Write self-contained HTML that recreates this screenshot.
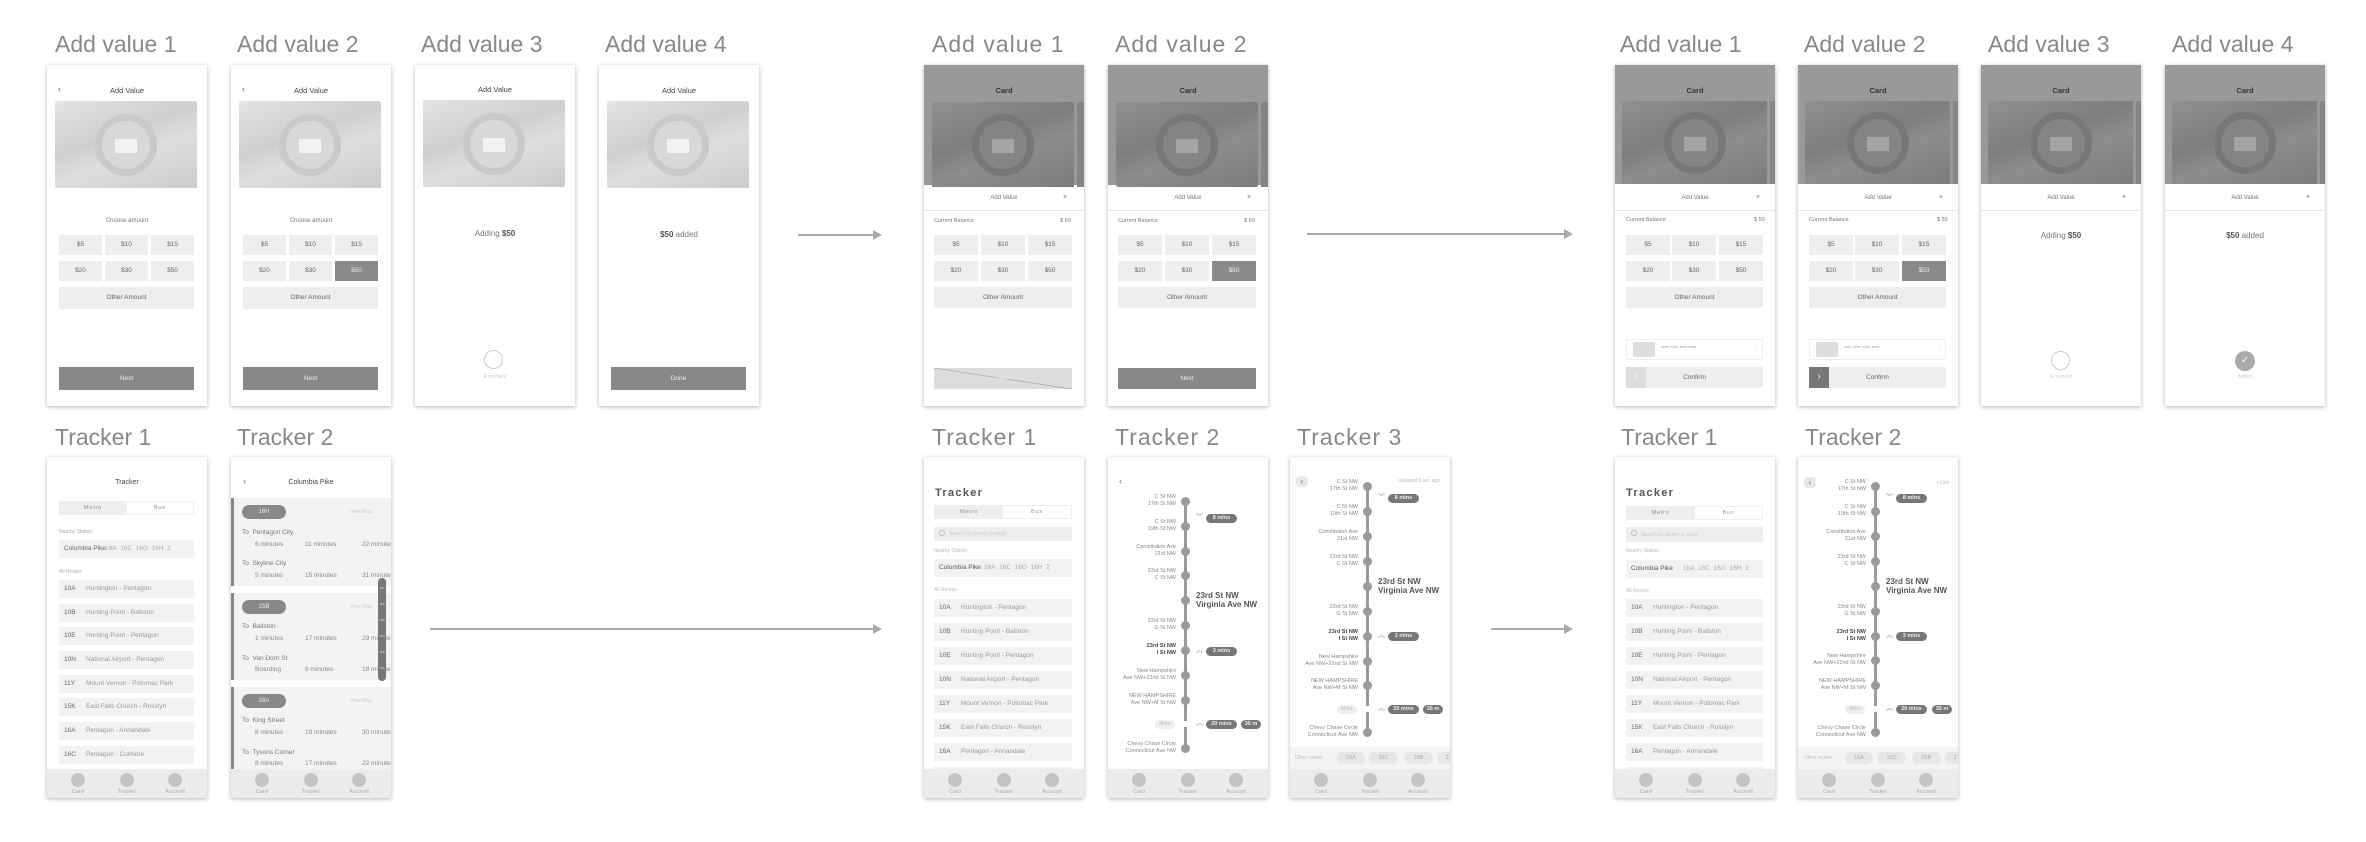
<!DOCTYPE html>
<html><head><meta charset="utf-8">
<style>
*{margin:0;padding:0;box-sizing:border-box}
body{width:2366px;height:842px;background:#fff;position:relative;overflow:hidden;font-family:"Liberation Sans",sans-serif;color:#555}
.a{position:absolute}
.ttl{position:absolute;font-size:23px;line-height:23px;color:#888;white-space:nowrap}
.ph{position:absolute;width:160px;height:341px;background:#fff;box-shadow:0 1px 4px rgba(0,0,0,.3);overflow:hidden}
.c{text-align:center}
.bt{position:absolute;width:43px;height:20px;line-height:20px;background:#eee;text-align:center;font-size:6.5px;color:#666}
.bw{width:44px}
.sel{background:#8a8a8a;color:#f0f0f0}
.oa{position:absolute;height:21px;line-height:21px;background:#eee;text-align:center;font-size:6.5px;color:#666}
.nx{position:absolute;height:22px;line-height:22px;background:#888;text-align:center;font-size:6.5px;color:#eee}
.hd{position:absolute;left:0;width:160px;text-align:center;font-size:7.5px;color:#444}
.card{position:absolute;overflow:hidden;border-radius:2px}
.card .sl{position:absolute;left:50%;top:50%;width:62px;height:62px;margin:-31px 0 0 -31px;border-radius:50%}
.card .bd{position:absolute;left:50%;top:50%;width:22px;height:14px;margin:-6px 0 0 -11px}
.light{background:linear-gradient(160deg,#e4e4e4,#cfcfcf 40%,#dedede 60%,#cbcbcb)}
.light .sl{border:7px solid #c9c9c9;background:#d8d8d8}
.light .bd{background:#f2f2f2}
.dark{background:linear-gradient(160deg,#909090,#7e7e7e 40%,#8c8c8c 60%,#7c7c7c)}
.dark .sl{border:7px solid #777;background:#858585}
.dark .bd{background:#a5a5a5}
.nav{position:absolute;left:0;top:312px;width:160px;height:30px;background:#ececec}
.nav i{position:absolute;top:4px;width:14px;height:14px;border-radius:50%;background:#c4c4c4}
.nav b{position:absolute;top:20px;width:40px;text-align:center;font-size:5.5px;font-weight:normal;color:#aaa}
.rt{position:absolute;height:18px;line-height:18px;background:#f2f2f2;font-size:6.5px;color:#999;white-space:nowrap;overflow:hidden}
.rt span{position:absolute;left:5px;color:#666}
.rt em{position:absolute;left:27px;font-style:normal}
.sm{position:absolute;font-size:5.5px;color:#aaa;white-space:nowrap}
.lb{position:absolute;width:66px;left:2px;text-align:right;font-size:5.5px;line-height:7px;color:#888;white-space:nowrap}
.nd{position:absolute;left:73px;width:9px;height:9px;border-radius:50%;background:#9a9a9a}
.ln{position:absolute;left:76px;width:3px;background:#9a9a9a}
.bg{position:absolute;height:9px;line-height:9px;border-radius:5px;background:#777;color:#eee;font-size:5.5px;font-weight:bold;text-align:center}
.chv{position:absolute;font-size:7px;color:#999;line-height:8px}
.big{position:absolute;left:88px;font-size:8px;font-weight:bold;line-height:9px;color:#555;white-space:nowrap}
.op{position:absolute;top:295px;height:12px;line-height:12px;border-radius:6px;background:#e6e6e6;color:#aaa;font-size:5.5px;text-align:center}
.sec{position:absolute;left:0;width:160px;background:#f3f3f3;border-left:3px solid #888}
.pill{position:absolute;left:8px;width:44px;height:14px;line-height:14px;border-radius:7px;background:#888;color:#eee;font-size:6px;text-align:center}
.vm{position:absolute;left:116px;font-size:5px;color:#ccc}
.to{position:absolute;left:8px;font-size:6.5px;color:#777;white-space:nowrap}
.tm{position:absolute;font-size:6.5px;color:#888;white-space:nowrap}
</style></head><body>

<svg class="a" style="left:0;top:0" width="2366" height="842">
<g stroke="#aaa" stroke-width="2" fill="#aaa">
<line x1="798" y1="235" x2="873" y2="235"/><polygon points="873,230 882,235 873,240" stroke="none"/>
<line x1="430" y1="629" x2="873" y2="629"/><polygon points="873,624 882,629 873,634" stroke="none"/>
<line x1="1307" y1="234" x2="1564" y2="234"/><polygon points="1564,229 1573,234 1564,239" stroke="none"/>
<line x1="1491" y1="629" x2="1564" y2="629"/><polygon points="1564,624 1573,629 1564,634" stroke="none"/>
</g></svg>

<!-- Titles -->
<div class="ttl" style="left:55px;top:33px">Add value 1</div>
<div class="ttl" style="left:237px;top:33px">Add value 2</div>
<div class="ttl" style="left:421px;top:33px">Add value 3</div>
<div class="ttl" style="left:605px;top:33px">Add value 4</div>
<div class="ttl" style="left:55px;top:426px">Tracker 1</div>
<div class="ttl" style="left:237px;top:426px">Tracker 2</div>
<div class="ttl" style="left:932px;top:33px;letter-spacing:1px">Add value 1</div>
<div class="ttl" style="left:1115px;top:33px;letter-spacing:1px">Add value 2</div>
<div class="ttl" style="left:932px;top:426px;letter-spacing:1px">Tracker 1</div>
<div class="ttl" style="left:1115px;top:426px;letter-spacing:1px">Tracker 2</div>
<div class="ttl" style="left:1297px;top:426px;letter-spacing:1px">Tracker 3</div>
<div class="ttl" style="left:1620px;top:33px">Add value 1</div>
<div class="ttl" style="left:1804px;top:33px">Add value 2</div>
<div class="ttl" style="left:1988px;top:33px">Add value 3</div>
<div class="ttl" style="left:2172px;top:33px">Add value 4</div>
<div class="ttl" style="left:1621px;top:426px">Tracker 1</div>
<div class="ttl" style="left:1805px;top:426px">Tracker 2</div>

<!-- G1 Add value 1 -->
<div class="ph" style="left:47px;top:65px">
<div class="a" style="left:11px;top:19px;font-size:9px;color:#666">‹</div>
<div class="hd" style="top:21px">Add Value</div>
<div class="card light" style="left:8px;top:36px;width:142px;height:87px"><div class="sl"></div><div class="bd"></div></div>
<div class="hd" style="top:153px;font-size:6px;color:#777">Choose amount</div>
<div class="bt" style="left:12px;top:170px">$5</div><div class="bt" style="left:58px;top:170px">$10</div><div class="bt" style="left:104px;top:170px">$15</div>
<div class="bt" style="left:12px;top:196px">$20</div><div class="bt" style="left:58px;top:196px">$30</div><div class="bt" style="left:104px;top:196px">$50</div>
<div class="oa" style="left:12px;top:222px;width:135px;height:22px">Other Amount</div>
<div class="nx" style="left:12px;top:302px;width:135px;height:23px;line-height:23px">Next</div>
</div>
<!-- G1 Add value 2 -->
<div class="ph" style="left:231px;top:65px">
<div class="a" style="left:11px;top:19px;font-size:9px;color:#666">‹</div>
<div class="hd" style="top:21px">Add Value</div>
<div class="card light" style="left:8px;top:36px;width:142px;height:87px"><div class="sl"></div><div class="bd"></div></div>
<div class="hd" style="top:153px;font-size:6px;color:#777">Choose amount</div>
<div class="bt" style="left:12px;top:170px">$5</div><div class="bt" style="left:58px;top:170px">$10</div><div class="bt" style="left:104px;top:170px">$15</div>
<div class="bt" style="left:12px;top:196px">$20</div><div class="bt" style="left:58px;top:196px">$30</div><div class="bt sel" style="left:104px;top:196px">$50</div>
<div class="oa" style="left:12px;top:222px;width:135px;height:22px">Other Amount</div>
<div class="nx" style="left:12px;top:302px;width:135px;height:23px;line-height:23px">Next</div>
</div>
<!-- G1 Add value 3 -->
<div class="ph" style="left:415px;top:65px">
<div class="hd" style="top:20px">Add Value</div>
<div class="card light" style="left:8px;top:35px;width:142px;height:87px"><div class="sl"></div><div class="bd"></div></div>
<div class="hd" style="top:164px;font-size:8px;color:#777">Adding <b style="color:#555">$50</b></div>
<div class="a" style="left:69px;top:285px;width:19px;height:19px;border-radius:50%;border:1.5px solid #ccc"></div>
<div class="hd" style="top:309px;font-size:5px;color:#ccc">A moment</div>
</div>
<!-- G1 Add value 4 -->
<div class="ph" style="left:599px;top:65px">
<div class="hd" style="top:21px">Add Value</div>
<div class="card light" style="left:8px;top:36px;width:142px;height:87px"><div class="sl"></div><div class="bd"></div></div>
<div class="hd" style="top:165px;font-size:8px;color:#777"><b style="color:#555">$50</b> added</div>
<div class="nx" style="left:12px;top:302px;width:135px;height:23px;line-height:23px">Done</div>
</div>

<!-- G1 Tracker 1 -->
<div class="ph" style="left:47px;top:457px">
<div class="hd" style="top:22px;font-size:7px">Tracker</div>
<div class="a" style="left:12px;top:44px;width:135px;height:14px;background:#eee"></div>
<div class="a c" style="left:13px;top:45px;width:66px;height:12px;line-height:12px;font-size:5.5px;letter-spacing:.8px;color:#888">Metro</div>
<div class="a c" style="left:80px;top:45px;width:66px;height:12px;line-height:12px;font-size:5.5px;letter-spacing:.8px;color:#888;background:#fff">Bus</div>
<div class="sm" style="left:12px;top:72px;font-size:5px">Nearby Station</div>
<div class="rt" style="left:12px;top:83px;width:135px"><span style="color:#666">Columbia Pike</span><em style="left:46px;color:#aaa">16A&nbsp; 16C&nbsp; 16G&nbsp; 16H&nbsp; 2</em></div>
<div class="sm" style="left:12px;top:112px;font-size:5px">All Routes</div>
<div class="rt" style="left:12px;top:123px;width:135px"><span>10A</span><em>Huntington - Pentagon</em></div>
<div class="rt" style="left:12px;top:147px;width:135px"><span>10B</span><em>Hunting Point - Ballston</em></div>
<div class="rt" style="left:12px;top:170px;width:135px"><span>10E</span><em>Hunting Point - Pentagon</em></div>
<div class="rt" style="left:12px;top:194px;width:135px"><span>10N</span><em>National Airport - Pentagon</em></div>
<div class="rt" style="left:12px;top:218px;width:135px"><span>11Y</span><em>Mount Vernon - Potomac Park</em></div>
<div class="rt" style="left:12px;top:241px;width:135px"><span>15K</span><em>East Falls Church - Rosslyn</em></div>
<div class="rt" style="left:12px;top:265px;width:135px"><span>16A</span><em>Pentagon - Annandale</em></div>
<div class="rt" style="left:12px;top:289px;width:135px"><span>16C</span><em>Pentagon - Culmore</em></div>
<div class="nav"><i style="left:24px"></i><i style="left:73px"></i><i style="left:121px"></i><b style="left:11px">Card</b><b style="left:60px">Tracker</b><b style="left:108px">Account</b></div>
</div>

<!-- G1 Tracker 2 -->
<div class="ph" style="left:231px;top:457px">
<div class="a" style="left:12px;top:19px;font-size:9px;color:#666">‹</div>
<div class="hd" style="top:22px;font-size:7px">Columbia Pike</div>
<div class="sec" style="top:41px;height:88px"></div>
<div class="sec" style="top:136px;height:87px"></div>
<div class="sec" style="top:230px;height:82px"></div>
<div class="pill" style="left:11px;top:48px">16H</div><div class="vm" style="left:119px;top:52px">View Map</div>
<div class="to" style="left:11px;top:72px">To&nbsp; Pentagon City</div>
<div class="tm" style="left:24px;top:84px">6 minutes</div><div class="tm" style="left:74px;top:84px">11 minutes</div><div class="tm" style="left:131px;top:84px">22 minutes</div>
<div class="to" style="left:11px;top:103px">To&nbsp; Skyline City</div>
<div class="tm" style="left:24px;top:115px">5 minutes</div><div class="tm" style="left:74px;top:115px">15 minutes</div><div class="tm" style="left:131px;top:115px">31 minutes</div>
<div class="pill" style="left:11px;top:143px">25B</div><div class="vm" style="left:119px;top:147px">View Map</div>
<div class="to" style="left:11px;top:166px">To&nbsp; Ballston</div>
<div class="tm" style="left:24px;top:178px">1 minutes</div><div class="tm" style="left:74px;top:178px">17 minutes</div><div class="tm" style="left:131px;top:178px">29 minutes</div>
<div class="to" style="left:11px;top:198px">To&nbsp; Van Dorn St</div>
<div class="tm" style="left:24px;top:209px">Boarding</div><div class="tm" style="left:74px;top:209px">9 minutes</div><div class="tm" style="left:131px;top:209px">18 minutes</div>
<div class="pill" style="left:11px;top:237px">28A</div><div class="vm" style="left:119px;top:241px">View Map</div>
<div class="to" style="left:11px;top:260px">To&nbsp; King Street</div>
<div class="tm" style="left:24px;top:272px">8 minutes</div><div class="tm" style="left:74px;top:272px">19 minutes</div><div class="tm" style="left:131px;top:272px">30 minutes</div>
<div class="to" style="left:11px;top:292px">To&nbsp; Tysons Corner</div>
<div class="tm" style="left:24px;top:303px">8 minutes</div><div class="tm" style="left:74px;top:303px">17 minutes</div><div class="tm" style="left:131px;top:303px">22 minutes</div>
<div class="a" style="left:147px;top:121px;width:8px;height:103px;border-radius:4px;background:#777;font-size:3px;color:#ddd;text-align:center;line-height:16px;padding-top:2px">16A<br>16C<br>16G<br>16H<br>25B<br>28A</div>
<div class="nav"><i style="left:24px"></i><i style="left:73px"></i><i style="left:121px"></i><b style="left:11px">Card</b><b style="left:60px">Tracker</b><b style="left:108px">Account</b></div>
</div>

<!-- G2 Add value 1 -->
<div class="ph" style="left:924px;top:65px">
<div class="a" style="left:0;top:0;width:160px;height:120px;background:#999"></div>
<div class="hd" style="top:21px;font-weight:bold;color:#333">Card</div>
<div class="card dark" style="left:8px;top:37px;width:142px;height:85px;border-radius:2px 2px 0 0"><div class="sl"></div><div class="bd"></div></div>
<div class="a" style="left:153px;top:37px;width:10px;height:85px;background:#858585"></div>
<div class="hd" style="top:130px;font-size:6px;color:#777">Add Value</div>
<div class="a" style="left:139px;top:129px;font-size:7px;color:#777">×</div>
<div class="a" style="left:0;top:145px;width:160px;height:1px;background:#e6e6e6"></div>
<div class="sm" style="left:10px;top:153px;font-size:5.5px;color:#777">Current Balance</div><div class="sm" style="left:136px;top:153px;font-size:5.5px;color:#777">$ 50</div>
<div class="bt bw" style="left:10px;top:170px">$5</div><div class="bt bw" style="left:57px;top:170px">$10</div><div class="bt bw" style="left:104px;top:170px">$15</div>
<div class="bt bw" style="left:10px;top:196px">$20</div><div class="bt bw" style="left:57px;top:196px">$30</div><div class="bt bw" style="left:104px;top:196px">$50</div>
<div class="oa" style="left:10px;top:222px;width:138px">Other Amount</div>
<div class="a" style="left:10px;top:303px;width:138px;height:21px;background:#ddd;overflow:hidden"><svg width="138" height="21"><line x1="0" y1="0" x2="138" y2="21" stroke="#999" stroke-width=".6"/></svg></div>
<div class="a c" style="left:10px;top:303px;width:138px;height:21px;line-height:21px;font-size:6px;color:#eee">Next</div>
</div>
<!-- G2 Add value 2 -->
<div class="ph" style="left:1108px;top:65px">
<div class="a" style="left:0;top:0;width:160px;height:120px;background:#999"></div>
<div class="hd" style="top:21px;font-weight:bold;color:#333">Card</div>
<div class="card dark" style="left:8px;top:37px;width:142px;height:85px"><div class="sl"></div><div class="bd"></div></div>
<div class="a" style="left:153px;top:37px;width:10px;height:85px;background:#858585"></div>
<div class="hd" style="top:130px;font-size:6px;color:#777">Add Value</div>
<div class="a" style="left:139px;top:129px;font-size:7px;color:#777">×</div>
<div class="a" style="left:0;top:145px;width:160px;height:1px;background:#e6e6e6"></div>
<div class="sm" style="left:10px;top:153px;font-size:5.5px;color:#777">Current Balance</div><div class="sm" style="left:136px;top:153px;font-size:5.5px;color:#777">$ 50</div>
<div class="bt bw" style="left:10px;top:170px">$5</div><div class="bt bw" style="left:57px;top:170px">$10</div><div class="bt bw" style="left:104px;top:170px">$15</div>
<div class="bt bw" style="left:10px;top:196px">$20</div><div class="bt bw" style="left:57px;top:196px">$30</div><div class="bt bw sel" style="left:104px;top:196px">$50</div>
<div class="oa" style="left:10px;top:222px;width:138px">Other Amount</div>
<div class="nx" style="left:10px;top:303px;width:138px;height:21px;line-height:21px">Next</div>
</div>

<!-- G2 Tracker 1 -->
<div class="ph" style="left:924px;top:457px">
<div class="a" style="left:11px;top:30px;font-size:11px;font-weight:bold;letter-spacing:1.3px;color:#555">Tracker</div>
<div class="a" style="left:10px;top:48px;width:138px;height:14px;background:#eee"></div>
<div class="a c" style="left:11px;top:49px;width:68px;height:12px;line-height:12px;font-size:5.5px;letter-spacing:.8px;color:#888">Metro</div>
<div class="a c" style="left:79px;top:49px;width:68px;height:12px;line-height:12px;font-size:5.5px;letter-spacing:.8px;color:#999;background:#fff">Bus</div>
<div class="a" style="left:10px;top:70px;width:138px;height:14px;background:#eee"></div>
<div class="a" style="left:15px;top:73px;width:6px;height:6px;border:1px solid #bbb;border-radius:50%"></div>
<div class="sm" style="left:25px;top:74px;font-size:5px;color:#ccc">Search by station or route</div>
<div class="sm" style="left:10px;top:91px;font-size:5px;color:#bbb">Nearby Station</div>
<div class="rt" style="left:10px;top:102px;width:138px"><span style="color:#555">Columbia Pike</span><em style="left:50px;color:#aaa">16A&nbsp; 16C&nbsp; 16G&nbsp; 16H&nbsp; 2</em></div>
<div class="sm" style="left:10px;top:130px;font-size:5px;color:#bbb">All Routes</div>
<div class="rt" style="left:10px;top:142px;width:138px"><span>10A</span><em>Huntington - Pentagon</em></div>
<div class="rt" style="left:10px;top:166px;width:138px"><span>10B</span><em>Hunting Point - Ballston</em></div>
<div class="rt" style="left:10px;top:190px;width:138px"><span>10E</span><em>Hunting Point - Pentagon</em></div>
<div class="rt" style="left:10px;top:214px;width:138px"><span>10N</span><em>National Airport - Pentagon</em></div>
<div class="rt" style="left:10px;top:238px;width:138px"><span>11Y</span><em>Mount Vernon - Potomac Park</em></div>
<div class="rt" style="left:10px;top:262px;width:138px"><span>15K</span><em>East Falls Church - Rosslyn</em></div>
<div class="rt" style="left:10px;top:286px;width:138px"><span>16A</span><em>Pentagon - Annandale</em></div>
<div class="rt" style="left:10px;top:310px;width:138px"></div>
<div class="nav"><i style="left:24px"></i><i style="left:73px"></i><i style="left:121px"></i><b style="left:11px">Card</b><b style="left:60px">Tracker</b><b style="left:108px">Account</b></div>
</div>

<!-- G2 Tracker 2 -->
<div class="ph" style="left:1108px;top:457px">
<div class="a" style="left:11px;top:19px;font-size:9px;color:#666">‹</div>
<div class="ln" style="top:44px;height:247px"></div>
<div class="nd" style="top:40px"></div><div class="lb" style="top:37px">C St NW<br>17th St NW</div>
<div class="nd" style="top:65px"></div><div class="lb" style="top:62px">C St NW<br>19th St NW</div>
<div class="nd" style="top:90px"></div><div class="lb" style="top:87px">Constitution Ave<br>21st NW</div>
<div class="nd" style="top:114px"></div><div class="lb" style="top:111px">23rd St NW<br>C St NW</div>
<div class="nd" style="top:139px"></div><div class="big" style="top:134px">23rd St NW<br>Virginia Ave NW</div>
<div class="nd" style="top:164px"></div><div class="lb" style="top:161px">23rd St NW<br>G St NW</div>
<div class="nd" style="top:189px"></div><div class="lb" style="top:186px;color:#444;font-weight:bold">23rd St NW<br>I St NW</div>
<div class="nd" style="top:214px"></div><div class="lb" style="top:211px">New Hampshire<br>Ave NW+22nd St NW</div>
<div class="nd" style="top:239px"></div><div class="lb" style="top:236px">NEW HAMPSHIRE<br>Ave NW+M St NW</div>
<div class="a" style="left:47px;top:263px;width:20px;height:9px;border-radius:5px;background:#eee;font-size:5px;line-height:9px;color:#bbb;text-align:center">More</div>
<div class="a" style="left:75px;top:264px;width:5px;height:6px;background:#fff"></div>
<div class="nd" style="top:287px"></div><div class="lb" style="top:284px">Chevy Chase Circle<br>Connecticut Ave NW</div>
<div class="chv" style="left:88px;top:57px">︾</div><div class="bg" style="left:98px;top:57px;width:31px">8 mins</div>
<div class="chv" style="left:88px;top:190px">︽</div><div class="bg" style="left:98px;top:190px;width:31px">3 mins</div>
<div class="chv" style="left:88px;top:263px">︽</div><div class="bg" style="left:98px;top:263px;width:31px">20 mins</div><div class="bg" style="left:133px;top:263px;width:20px">35 m</div>
<div class="nav"><i style="left:24px"></i><i style="left:73px"></i><i style="left:121px"></i><b style="left:11px">Card</b><b style="left:60px">Tracker</b><b style="left:108px">Account</b></div>
</div>

<!-- G2 Tracker 3 -->
<div class="ph" style="left:1290px;top:457px">
<div class="a" style="left:6px;top:19px;width:12px;height:11px;border-radius:4px;background:#e8e8e8;font-size:8px;line-height:11px;text-align:center;color:#666">‹</div>
<div class="sm" style="left:108px;top:21px;font-size:5px;color:#bbb">Updated 5 sec ago</div>
<div class="ln" style="top:29px;height:247px"></div>
<div class="nd" style="top:25px"></div><div class="lb" style="top:22px">C St NW<br>17th St NW</div>
<div class="nd" style="top:50px"></div><div class="lb" style="top:47px">C St NW<br>19th St NW</div>
<div class="nd" style="top:75px"></div><div class="lb" style="top:72px">Constitution Ave<br>21st NW</div>
<div class="nd" style="top:100px"></div><div class="lb" style="top:97px">23rd St NW<br>C St NW</div>
<div class="nd" style="top:125px"></div><div class="big" style="top:120px">23rd St NW<br>Virginia Ave NW</div>
<div class="nd" style="top:150px"></div><div class="lb" style="top:147px">23rd St NW<br>G St NW</div>
<div class="nd" style="top:175px"></div><div class="lb" style="top:172px;color:#444;font-weight:bold">23rd St NW<br>I St NW</div>
<div class="nd" style="top:200px"></div><div class="lb" style="top:197px">New Hampshire<br>Ave NW+22nd St NW</div>
<div class="nd" style="top:224px"></div><div class="lb" style="top:221px">NEW HAMPSHIRE<br>Ave NW+M St NW</div>
<div class="a" style="left:47px;top:248px;width:20px;height:9px;border-radius:5px;background:#eee;font-size:5px;line-height:9px;color:#bbb;text-align:center">More</div>
<div class="a" style="left:75px;top:249px;width:5px;height:6px;background:#fff"></div>
<div class="nd" style="top:271px"></div><div class="lb" style="top:268px">Chevy Chase Circle<br>Connecticut Ave NW</div>
<div class="chv" style="left:88px;top:37px">︾</div><div class="bg" style="left:98px;top:37px;width:31px">8 mins</div>
<div class="chv" style="left:88px;top:175px">︽</div><div class="bg" style="left:98px;top:175px;width:31px">3 mins</div>
<div class="chv" style="left:88px;top:248px">︽</div><div class="bg" style="left:98px;top:248px;width:31px">20 mins</div><div class="bg" style="left:133px;top:248px;width:20px">35 m</div>
<div class="a" style="left:0;top:290px;width:160px;height:22px;background:#f4f4f4"></div>
<div class="sm" style="left:5px;top:298px;font-size:5px;color:#bbb">Other routes</div>
<div class="op" style="left:47px;width:28px">16A</div><div class="op" style="left:79px;width:29px">16C</div><div class="op" style="left:114px;width:29px">25B</div><div class="op" style="left:147px;width:20px">2</div>
<div class="nav"><i style="left:24px"></i><i style="left:73px"></i><i style="left:121px"></i><b style="left:11px">Card</b><b style="left:60px">Tracker</b><b style="left:108px">Account</b></div>
</div>

<!-- G3 Add value 1 -->
<div class="ph" style="left:1615px;top:65px">
<div class="a" style="left:0;top:0;width:160px;height:119px;background:#999"></div>
<div class="hd" style="top:21px;font-weight:bold;color:#333">Card</div>
<div class="card dark" style="left:7px;top:36px;width:145px;height:83px"><div class="sl"></div><div class="bd"></div></div>
<div class="a" style="left:155px;top:36px;width:10px;height:83px;background:#858585"></div>
<div class="hd" style="top:130px;font-size:6px;color:#777">Add Value</div>
<div class="a" style="left:141px;top:129px;font-size:7px;color:#777">×</div>
<div class="a" style="left:0;top:145px;width:160px;height:1px;background:#e6e6e6"></div>
<div class="sm" style="left:11px;top:152px;font-size:5.5px;color:#777">Current Balance</div><div class="sm" style="left:139px;top:152px;font-size:5.5px;color:#777">$ 50</div>
<div class="bt bw" style="left:11px;top:170px">$5</div><div class="bt bw" style="left:57px;top:170px">$10</div><div class="bt bw" style="left:104px;top:170px">$15</div>
<div class="bt bw" style="left:11px;top:196px">$20</div><div class="bt bw" style="left:57px;top:196px">$30</div><div class="bt bw" style="left:104px;top:196px">$50</div>
<div class="oa" style="left:11px;top:222px;width:137px">Other Amount</div>
<div class="a" style="left:11px;top:274px;width:137px;height:21px;border:1px solid #eee;background:#fff"></div>
<div class="a" style="left:18px;top:277px;width:22px;height:15px;background:#ddd;border-radius:2px"></div>
<div class="sm" style="left:46px;top:281px;font-size:5px;color:#999">**** **** **** ****</div>
<div class="sm" style="left:141px;top:279px;font-size:7px;color:#ddd">›</div>
<div class="oa" style="left:11px;top:302px;width:137px">Confirm</div>
<div class="a" style="left:11px;top:302px;width:20px;height:21px;background:#ddd;color:#fff;font-size:10px;line-height:20px;text-align:center">›</div>
</div>
<!-- G3 Add value 2 -->
<div class="ph" style="left:1798px;top:65px">
<div class="a" style="left:0;top:0;width:160px;height:119px;background:#999"></div>
<div class="hd" style="top:21px;font-weight:bold;color:#333">Card</div>
<div class="card dark" style="left:7px;top:36px;width:145px;height:83px"><div class="sl"></div><div class="bd"></div></div>
<div class="a" style="left:155px;top:36px;width:10px;height:83px;background:#858585"></div>
<div class="hd" style="top:130px;font-size:6px;color:#777">Add Value</div>
<div class="a" style="left:141px;top:129px;font-size:7px;color:#777">×</div>
<div class="a" style="left:0;top:145px;width:160px;height:1px;background:#e6e6e6"></div>
<div class="sm" style="left:11px;top:152px;font-size:5.5px;color:#777">Current Balance</div><div class="sm" style="left:139px;top:152px;font-size:5.5px;color:#777">$ 50</div>
<div class="bt bw" style="left:11px;top:170px">$5</div><div class="bt bw" style="left:57px;top:170px">$10</div><div class="bt bw" style="left:104px;top:170px">$15</div>
<div class="bt bw" style="left:11px;top:196px">$20</div><div class="bt bw" style="left:57px;top:196px">$30</div><div class="bt bw sel" style="left:104px;top:196px">$50</div>
<div class="oa" style="left:11px;top:222px;width:137px">Other Amount</div>
<div class="a" style="left:11px;top:274px;width:137px;height:21px;border:1px solid #eee;background:#fff"></div>
<div class="a" style="left:18px;top:277px;width:22px;height:15px;background:#ddd;border-radius:2px"></div>
<div class="sm" style="left:46px;top:281px;font-size:5px;color:#999">**** **** **** ****</div>
<div class="sm" style="left:141px;top:279px;font-size:7px;color:#ddd">›</div>
<div class="oa" style="left:11px;top:302px;width:137px">Confirm</div>
<div class="a" style="left:11px;top:302px;width:20px;height:21px;background:#777;color:#fff;font-size:10px;line-height:20px;text-align:center">›</div>
</div>
<!-- G3 Add value 3 -->
<div class="ph" style="left:1981px;top:65px">
<div class="a" style="left:0;top:0;width:160px;height:119px;background:#999"></div>
<div class="hd" style="top:21px;font-weight:bold;color:#333">Card</div>
<div class="card dark" style="left:7px;top:36px;width:145px;height:83px"><div class="sl"></div><div class="bd"></div></div>
<div class="a" style="left:155px;top:36px;width:10px;height:83px;background:#858585"></div>
<div class="hd" style="top:130px;font-size:6px;color:#777">Add Value</div>
<div class="a" style="left:141px;top:129px;font-size:7px;color:#777">×</div>
<div class="a" style="left:0;top:145px;width:160px;height:1px;background:#e6e6e6"></div>
<div class="hd" style="top:166px;font-size:8px;color:#777">Adding <b style="color:#555">$50</b></div>
<div class="a" style="left:70px;top:286px;width:19px;height:19px;border-radius:50%;border:1.5px solid #ccc"></div>
<div class="hd" style="top:309px;font-size:5px;color:#ccc">A moment</div>
</div>
<!-- G3 Add value 4 -->
<div class="ph" style="left:2165px;top:65px">
<div class="a" style="left:0;top:0;width:160px;height:119px;background:#999"></div>
<div class="hd" style="top:21px;font-weight:bold;color:#333">Card</div>
<div class="card dark" style="left:7px;top:36px;width:145px;height:83px"><div class="sl"></div><div class="bd"></div></div>
<div class="a" style="left:155px;top:36px;width:10px;height:83px;background:#858585"></div>
<div class="hd" style="top:130px;font-size:6px;color:#777">Add Value</div>
<div class="a" style="left:141px;top:129px;font-size:7px;color:#777">×</div>
<div class="a" style="left:0;top:145px;width:160px;height:1px;background:#e6e6e6"></div>
<div class="hd" style="top:166px;font-size:8px;color:#777"><b style="color:#555">$50</b> added</div>
<div class="a" style="left:70px;top:286px;width:20px;height:20px;border-radius:50%;background:#aaa;color:#fff;font-size:10px;line-height:20px;text-align:center">✓</div>
<div class="hd" style="top:309px;font-size:5px;color:#ccc">Added</div>
</div>

<!-- G3 Tracker 1 -->
<div class="ph" style="left:1615px;top:457px">
<div class="a" style="left:11px;top:30px;font-size:11px;font-weight:bold;letter-spacing:1.3px;color:#555">Tracker</div>
<div class="a" style="left:11px;top:49px;width:137px;height:14px;background:#eee"></div>
<div class="a c" style="left:12px;top:50px;width:67px;height:12px;line-height:12px;font-size:5.5px;letter-spacing:.8px;color:#888">Metro</div>
<div class="a c" style="left:80px;top:50px;width:67px;height:12px;line-height:12px;font-size:5.5px;letter-spacing:.8px;color:#999;background:#fff">Bus</div>
<div class="a" style="left:11px;top:70px;width:137px;height:15px;background:#eee"></div>
<div class="a" style="left:16px;top:73px;width:6px;height:6px;border:1px solid #bbb;border-radius:50%"></div>
<div class="sm" style="left:26px;top:75px;font-size:5px;color:#ccc">Search by station or route</div>
<div class="sm" style="left:11px;top:91px;font-size:5px;color:#bbb">Nearby Station</div>
<div class="rt" style="left:11px;top:103px;width:137px"><span style="color:#555">Columbia Pike</span><em style="left:57px;color:#aaa">16A&nbsp; 16C&nbsp; 16G&nbsp; 16H&nbsp; 2</em></div>
<div class="sm" style="left:11px;top:131px;font-size:5px;color:#bbb">All Routes</div>
<div class="rt" style="left:11px;top:142px;width:137px"><span>10A</span><em>Huntington - Pentagon</em></div>
<div class="rt" style="left:11px;top:166px;width:137px"><span>10B</span><em>Hunting Point - Ballston</em></div>
<div class="rt" style="left:11px;top:190px;width:137px"><span>10E</span><em>Hunting Point - Pentagon</em></div>
<div class="rt" style="left:11px;top:214px;width:137px"><span>10N</span><em>National Airport - Pentagon</em></div>
<div class="rt" style="left:11px;top:238px;width:137px"><span>11Y</span><em>Mount Vernon - Potomac Park</em></div>
<div class="rt" style="left:11px;top:262px;width:137px"><span>15K</span><em>East Falls Church - Rosslyn</em></div>
<div class="rt" style="left:11px;top:286px;width:137px"><span>16A</span><em>Pentagon - Annandale</em></div>
<div class="rt" style="left:11px;top:310px;width:137px"></div>
<div class="nav"><i style="left:24px"></i><i style="left:73px"></i><i style="left:121px"></i><b style="left:11px">Card</b><b style="left:60px">Tracker</b><b style="left:108px">Account</b></div>
</div>

<!-- G3 Tracker 2 -->
<div class="ph" style="left:1798px;top:457px">
<div class="a" style="left:6px;top:20px;width:12px;height:11px;border-radius:4px;background:#e8e8e8;font-size:8px;line-height:11px;text-align:center;color:#666">‹</div>
<div class="sm" style="left:139px;top:23px;font-size:5px;color:#bbb">• Live</div>
<div class="ln" style="top:29px;height:247px"></div>
<div class="nd" style="top:25px"></div><div class="lb" style="top:22px">C St NW<br>17th St NW</div>
<div class="nd" style="top:50px"></div><div class="lb" style="top:47px">C St NW<br>19th St NW</div>
<div class="nd" style="top:75px"></div><div class="lb" style="top:72px">Constitution Ave<br>21st NW</div>
<div class="nd" style="top:100px"></div><div class="lb" style="top:97px">23rd St NW<br>C St NW</div>
<div class="nd" style="top:125px"></div><div class="big" style="top:120px">23rd St NW<br>Virginia Ave NW</div>
<div class="nd" style="top:150px"></div><div class="lb" style="top:147px">23rd St NW<br>G St NW</div>
<div class="nd" style="top:175px"></div><div class="lb" style="top:172px;color:#444;font-weight:bold">23rd St NW<br>I St NW</div>
<div class="nd" style="top:199px"></div><div class="lb" style="top:196px">New Hampshire<br>Ave NW+22nd St NW</div>
<div class="nd" style="top:224px"></div><div class="lb" style="top:221px">NEW HAMPSHIRE<br>Ave NW+M St NW</div>
<div class="a" style="left:47px;top:248px;width:20px;height:9px;border-radius:5px;background:#eee;font-size:5px;line-height:9px;color:#bbb;text-align:center">More</div>
<div class="a" style="left:75px;top:249px;width:5px;height:6px;background:#fff"></div>
<div class="nd" style="top:271px"></div><div class="lb" style="top:268px">Chevy Chase Circle<br>Connecticut Ave NW</div>
<div class="chv" style="left:88px;top:37px">︾</div><div class="bg" style="left:98px;top:37px;width:31px">8 mins</div>
<div class="chv" style="left:88px;top:175px">︽</div><div class="bg" style="left:98px;top:175px;width:31px">3 mins</div>
<div class="chv" style="left:88px;top:248px">︽</div><div class="bg" style="left:98px;top:248px;width:31px">20 mins</div><div class="bg" style="left:134px;top:248px;width:20px">35 m</div>
<div class="a" style="left:0;top:290px;width:160px;height:22px;background:#f4f4f4"></div>
<div class="sm" style="left:6px;top:298px;font-size:5px;color:#bbb">Other routes</div>
<div class="op" style="left:47px;width:28px">16A</div><div class="op" style="left:79px;width:29px">16C</div><div class="op" style="left:114px;width:29px">25B</div><div class="op" style="left:147px;width:20px">2</div>
<div class="nav"><i style="left:24px"></i><i style="left:73px"></i><i style="left:121px"></i><b style="left:11px">Card</b><b style="left:60px">Tracker</b><b style="left:108px">Account</b></div>
</div>

</body></html>
